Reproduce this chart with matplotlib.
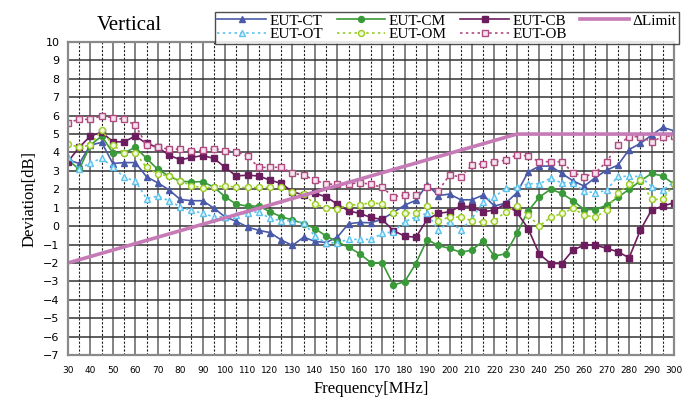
import matplotlib

matplotlib.use("Agg")
import matplotlib.pyplot as plt
from matplotlib.ticker import MultipleLocator

# frequency points, every 5 MHz
freq = list(range(30, 301, 5))

eut_ct = [3.6, 3.4, 4.4, 4.55, 3.4, 3.45, 3.45, 2.68, 2.35, 1.97, 1.45, 1.38, 1.38, 0.98,
          0.5, 0.26, -0.05, -0.23, -0.35, -0.75, -1.05, -0.6, -0.83, -0.89, -0.6, 0.13,
          0.2, 0.18, 0.38, 0.75, 1.14, 1.4, 2.25, 1.66, 1.74, 1.43, 1.43, 1.69, 1.09,
          1.25, 1.81, 2.93, 3.26, 3.26, 2.86, 2.46, 2.17, 2.64, 3.04, 3.31, 4.16, 4.49,
          4.94, 5.36, 5.18]
eut_cm = [3.6, 3.08, 4.4, 4.89, 3.98, 3.98, 4.28, 3.68, 3.08, 2.72, 2.43, 2.41, 2.41, 2.12,
          1.59, 1.19, 1.09, 1.09, 0.78, 0.51, 0.33, 0.14, -0.13, -0.54, -0.85, -1.15,
          -1.5, -1.99, -1.99, -3.2, -3.02, -2.03, -0.73, -1.05, -1.21, -1.42, -1.3, -0.81,
          -1.63, -1.5, -0.4, 0.82, 1.57, 2.0, 1.78, 1.38, 0.9, 0.9, 1.14, 1.56, 2.0, 2.45,
          2.86, 2.72, 2.28]
eut_cb = [3.5, 4.28, 4.89, 5.1, 4.58, 4.58, 4.89, 4.49, 4.28, 3.86, 3.6, 3.73, 3.83, 3.68,
          3.19, 2.72, 2.77, 2.72, 2.5, 2.32, 1.87, 1.69, 1.78, 1.59, 1.19, 0.83, 0.69,
          0.47, 0.36, -0.25, -0.54, -0.61, 0.36, 0.69, 0.78, 1.09, 1.05, 0.78, 0.87, 1.2,
          0.75, -0.13, -1.52, -2.03, -2.03, -1.3, -1.03, -1.03, -1.21, -1.39, -1.72,
          -0.22, 0.87, 1.09, 1.27]
eut_ot = [3.77, 3.1, 3.44, 3.68, 3.22, 2.65, 2.45, 1.5, 1.63, 1.38, 1.05, 0.85, 0.7, 0.5,
          0.51, 0.6, 0.72, 0.78, 0.42, 0.29, 0.29, 0.18, -0.54, -0.92, -0.9, -0.72, -0.72,
          -0.72, -0.4, -0.3, 0.24, 0.5, 0.7, -0.22, 0.24, -0.2, 0.4, 1.32, 1.58, 2.05, 2.1,
          2.3, 2.3, 2.6, 2.35, 2.35, 1.9, 1.8, 1.95, 2.7, 2.7, 2.7, 2.15, 1.95, 2.4]
eut_om = [4.46, 4.28, 4.4, 5.22, 4.4, 3.98, 3.98, 3.19, 2.83, 2.72, 2.46, 2.2, 2.08, 2.1,
          2.2, 2.1, 2.1, 2.1, 2.1, 2.1, 1.85, 1.74, 1.19, 1.0, 0.95, 1.14, 1.17, 1.27, 1.2,
          0.7, 0.7, 0.72, 1.09, 0.29, 0.49, 0.49, 0.29, 0.2, 0.29, 0.78, 1.09, 0.6, 0.0,
          0.47, 0.69, 0.96, 0.6, 0.47, 0.9, 1.78, 2.28, 2.5, 1.45, 1.45, 2.28]
eut_ob = [5.62, 5.8, 5.8, 5.98, 5.89, 5.8, 5.49, 4.4, 4.28, 4.18, 4.18, 4.09, 4.12, 4.2,
          4.1, 4.05, 3.8, 3.19, 3.19, 3.2, 2.87, 2.77, 2.5, 2.28, 2.28, 2.3, 2.35, 2.28,
          2.1, 1.59, 1.69, 1.69, 2.1, 1.92, 2.77, 2.68, 3.31, 3.4, 3.49, 3.58, 3.88, 3.8,
          3.5, 3.5, 3.5, 2.9, 2.68, 2.9, 3.5, 4.4, 4.86, 4.86, 4.58, 4.86, 4.89]

limit_freq = [30, 230, 300]
limit_val = [-2, 5, 5]

SERIF = "Liberation Serif"
SANS = "DejaVu Sans"

fig = plt.figure(figsize=(6.98, 3.98), dpi=100)
ax = fig.add_axes([0.0974, 0.108, 0.8682, 0.7865])

ax.set_xlim(30, 300)
ax.set_ylim(-7, 10)
ax.xaxis.set_major_locator(MultipleLocator(10))
ax.xaxis.set_minor_locator(MultipleLocator(5))
ax.yaxis.set_major_locator(MultipleLocator(1))

ax.grid(which="major", axis="x", color="#7a7a7a", lw=1.3)
ax.grid(which="minor", axis="x", color="#222222", lw=0.8, ls=(0, (2, 1.5)))
ax.grid(which="major", axis="y", color="#333333", lw=1.1)
ax.set_axisbelow(True)
for sp in ax.spines.values():
    sp.set_color("#8a8a8a")
    sp.set_linewidth(1.6)

ax.tick_params(which="both", length=0)
ax.tick_params(axis="x", labelsize=6.5, pad=8)
ax.tick_params(axis="y", labelsize=8, pad=6)
for lab in ax.get_xticklabels() + ax.get_yticklabels():
    lab.set_family(SANS)

ms = 4.3
h_ct, = ax.plot(freq, eut_ct, color="#4a5aa8", lw=1.2, marker="^", ms=ms, label="EUT-CT")
h_cm, = ax.plot(freq, eut_cm, color="#3a9a3a", lw=1.2, marker="o", ms=ms, label="EUT-CM")
h_cb, = ax.plot(freq, eut_cb, color="#6b1d5e", lw=1.2, marker="s", ms=ms, label="EUT-CB")
h_ot, = ax.plot(freq, eut_ot, color="#5cc3ee", lw=1.2, ls=(0, (1.5, 2)), marker="^", ms=ms,
                mfc="#dff2fb", label="EUT-OT")
h_om, = ax.plot(freq, eut_om, color="#99cc22", lw=1.2, ls=(0, (1.5, 2)), marker="o", ms=ms,
                mfc="#f2f8dc", label="EUT-OM")
h_ob, = ax.plot(freq, eut_ob, color="#b04a80", lw=1.2, ls=(0, (1.5, 2)), marker="s", ms=ms,
                mfc="#f5e4ee", label="EUT-OB")
h_lim, = ax.plot(limit_freq, limit_val, color="#c67ab6", lw=2.6, label="ΔLimit")

handles = [h_ct, h_ot, h_cm, h_om, h_cb, h_ob, h_lim]
leg = fig.legend(handles=handles, ncol=4, loc="upper left", bbox_to_anchor=(0.297, 0.99),
                 prop={"family": SERIF, "size": 11}, frameon=True, fancybox=False,
                 edgecolor="#222222", handlelength=3.2, handletextpad=0.2,
                 columnspacing=0.9, labelspacing=0.0, borderpad=0.15)
leg.get_frame().set_linewidth(1.0)

fig.text(0.185, 0.935, "Vertical", family=SERIF, fontsize=15, ha="center", va="center")
ax.set_xlabel("Frequency[MHz]", family=SERIF, fontsize=12, labelpad=4)
ax.set_ylabel("Deviation[dB]", family=SERIF, fontsize=12, labelpad=4)

fig.savefig("out.png", dpi=100)
